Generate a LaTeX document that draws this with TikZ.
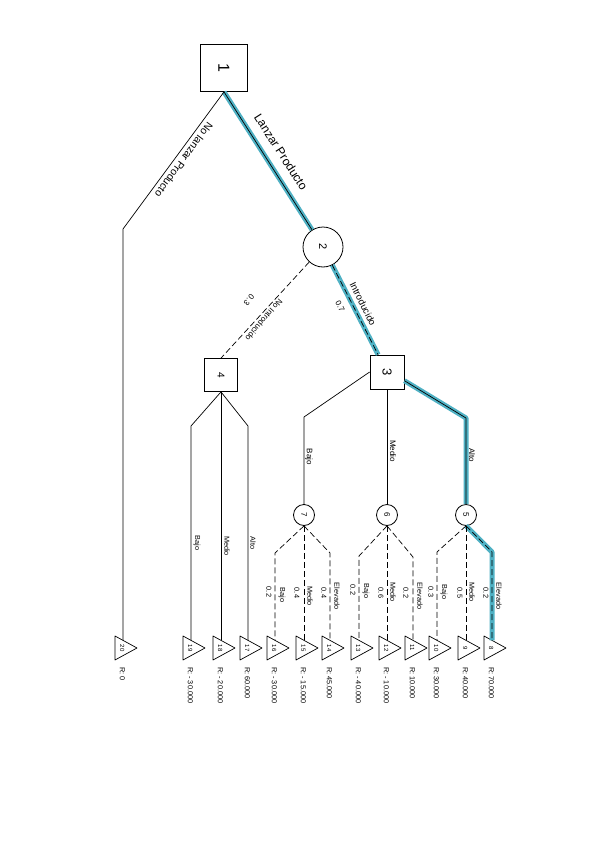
\documentclass[tikz,border=0pt]{standalone}
\usepackage{fontspec}
\setmainfont{Liberation Sans}
\usetikzlibrary{calc}
\definecolor{hl}{RGB}{79,177,196}
\newcommand\leafnode[4]{%
  \draw[br] (#2-8,636) -- (#2+14,648) -- (#2-8,660) -- cycle;
  \coordinate (#1) at (#2,640.4);
  \node[leafnum] (#1n) at (#2-0.7,648) {#3};
  \node[payoff] (#1p) at (#2-0.7,667) {#4};
}
\newcommand\rt[1]{\rotatebox{-90}{#1}}
\begin{document}
\begin{tikzpicture}[x=1pt,y=-1pt,
  dbox/.style={draw, rectangle, line width=0.8pt, minimum size=#1, inner sep=0pt},
  cnode/.style={draw, circle, line width=0.8pt, minimum size=#1, inner sep=0pt},
  br/.style={line width=0.7pt, line join=round},
  dsh/.style={br, dash pattern=on 6pt off 3pt},
  hlpath/.style={draw=hl, line width=5pt, line join=round},
  leafnum/.style={rotate=-90, inner sep=0pt, font=\fontsize{6}{6}\selectfont},
  payoff/.style={rotate=-90, anchor=west, inner sep=0pt, font=\fontsize{7.3}{8}\selectfont},
  small/.style={rotate=-90, inner sep=0pt, font=\fontsize{7.3}{8}\selectfont},
  mid/.style={rotate=-90, inner sep=0pt, font=\fontsize{8}{9}\selectfont}
]
\useasboundingbox (0,0) rectangle (600,848);

% decision / chance nodes
\node[dbox=47pt, font=\fontsize{16}{16}\selectfont] (n1) at (224,68) {\rt{1}};
\node[cnode=40pt, font=\fontsize{11}{11}\selectfont] (n2) at (323,247) {\rt{2}};
\node[dbox=34pt, font=\fontsize{13}{13}\selectfont] (n3) at (387,372) {\rt{3}};
\node[dbox=33pt, font=\fontsize{10}{10}\selectfont] (n4) at (221,375) {\rt{4}};
\node[cnode=21pt, font=\fontsize{8}{8}\selectfont] (n7) at (304,515) {\rt{7}};
\node[cnode=21pt, font=\fontsize{8}{8}\selectfont] (n6) at (387,515) {\rt{6}};
\node[cnode=21pt, font=\fontsize{8}{8}\selectfont] (n5) at (466,515) {\rt{5}};

% kinks
\coordinate (k20) at (123,229);
\coordinate (k7) at (304,417);
\coordinate (k5) at (466,418);
\coordinate (a3) at ($(n3.east)!0.5!(n3.south east)$);
\coordinate (k19) at (191,426);
\coordinate (k17) at (248,426);
\coordinate (k16) at (275,553);
\coordinate (k14) at (330,553);
\coordinate (k13) at (359,556);
\coordinate (k11) at (413,557);
\coordinate (k10) at (437,552);
\coordinate (k8) at (492,552);

% leaves
\leafnode{l20}{123}{20}{R: 0}
\leafnode{l19}{191}{19}{R: - 30.000}
\leafnode{l18}{221}{18}{R: - 20.000}
\leafnode{l17}{248}{17}{R: 60.000}
\leafnode{l16}{275}{16}{R: - 30.000}
\leafnode{l15}{304}{15}{R: - 15.000}
\leafnode{l14}{330}{14}{R: 45.000}
\leafnode{l13}{359}{13}{R: - 40.000}
\leafnode{l12}{387}{12}{R: - 10.000}
\leafnode{l11}{413}{11}{R: 10.000}
\leafnode{l10}{437}{10}{R: 30.000}
\leafnode{l9}{466}{9}{R: 40.000}
\leafnode{l8}{492}{8}{R: 70.000}

% highlighted path (underlay)
\draw[hlpath] (n1.south) -- (n2);
\draw[hlpath] (n2) -- (n3);
\draw[hlpath] (a3) -- (k5) -- (n5);
\draw[hlpath] (n5.south) -- (k8) -- (l8);

% branches
\draw[br] (n1.south) -- (k20) -- (l20);
\draw[br] (n1.south) -- (n2);
\draw[dsh] (n2) -- (n4.north);
\draw[dsh] (n2) -- (n3);
\draw[br] (n3.west) -- (k7) -- (n7);
\draw[br] (n3.south) -- (n6);
\draw[br] (a3) -- (k5) -- (n5);
\draw[br] (n4.south) -- (k19) -- (l19);
\draw[br] (n4.south) -- (l18);
\draw[br] (n4.south) -- (k17) -- (l17);
\draw[dsh] (n7.south) -- (k16) -- (l16);
\draw[dsh] (n7.south) -- (l15);
\draw[dsh] (n7.south) -- (k14) -- (l14);
\draw[dsh] (n6.south) -- (k13) -- (l13);
\draw[dsh] (n6.south) -- (l12);
\draw[dsh] (n6.south) -- (k11) -- (l11);
\draw[dsh] (n5.south) -- (k10) -- (l10);
\draw[dsh] (n5.south) -- (l9);
\draw[dsh] (n5.south) -- (k8) -- (l8);

% main branch labels
\node[inner sep=0pt, rotate=-57.4, font=\fontsize{12}{12}\selectfont] (t1) at (281,152) {Lanzar Producto};
\node[inner sep=0pt, rotate=-126.4, font=\fontsize{10.5}{11}\selectfont] (t2) at (184,160) {No lanzar Producto};
\node[inner sep=0pt, rotate=-63.4, font=\fontsize{9.5}{10}\selectfont] (t3) at (363,304) {Introducido};
\node[inner sep=0pt, rotate=-63.4, font=\fontsize{8}{8}\selectfont] (p3) at (340,306) {0.7};
\node[inner sep=0pt, rotate=-130.7, font=\fontsize{8}{8}\selectfont] (t4) at (264,320) {No Introducido};
\node[inner sep=0pt, rotate=-130.7, font=\fontsize{8}{8}\selectfont] (p4) at (249,300) {0.3};

% node 3 branches
\node[mid] (b3a) at (309,457) {Bajo};
\node[mid] (b3b) at (393,451) {Medio};
\node[mid] (b3c) at (472,455) {Alto};
% node 4 branches
\node[small] (b4a) at (197,543) {Bajo};
\node[small] (b4b) at (227,546) {Medio};
\node[small] (b4c) at (253,543) {Alto};

% chance branches node 7
\node[small] (q16) at (269,592) {0.2};
\node[small] (c16) at (282,595) {Bajo};
\node[small] (q15) at (297,593) {0.4};
\node[small] (c15) at (310,596) {Medio};
\node[small] (q14) at (324,593) {0.4};
\node[small] (c14) at (337,596) {Elevado};
% node 6
\node[small] (q13) at (353,590) {0.2};
\node[small] (c13) at (366,591) {Bajo};
\node[small] (q12) at (381,593) {0.6};
\node[small] (c12) at (393,592) {Medio};
\node[small] (q11) at (406,593) {0.2};
\node[small] (c11) at (420,596) {Elevado};
% node 5
\node[small] (q10) at (431,592) {0.3};
\node[small] (c10) at (444,592) {Bajo};
\node[small] (q9) at (460,593) {0.5};
\node[small] (c9) at (472,592) {Medio};
\node[small] (q8) at (486,593) {0.2};
\node[small] (c8) at (499,596) {Elevado};
\end{tikzpicture}
\end{document}
